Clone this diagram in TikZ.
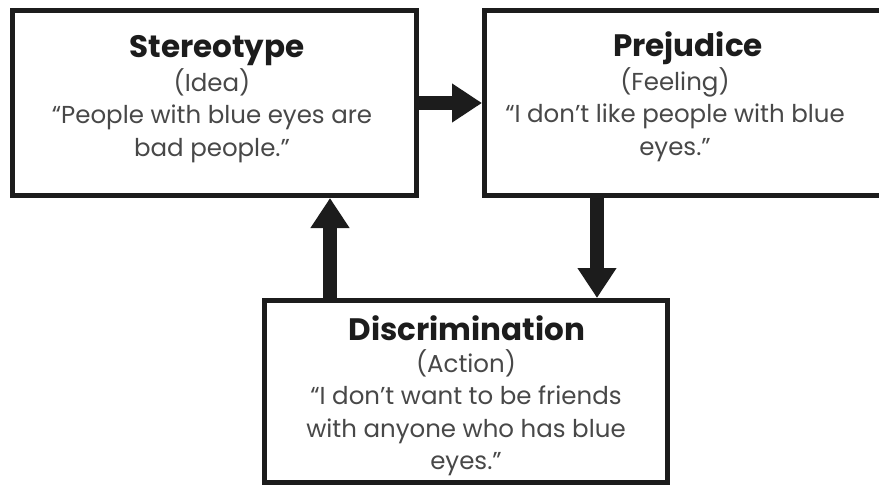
\documentclass[tikz,border=0pt]{standalone}
\usepackage{fontspec}
\setmainfont{Poppins}
\usetikzlibrary{arrows.meta}

\definecolor{ink}{HTML}{1C1C1C}
\definecolor{bodygrey}{HTML}{484848}

\tikzset{
  card/.style={draw=ink, line width=5pt, fill=white, inner sep=0pt},
  cardtitle/.style={anchor=base, inner sep=0pt, text=ink,
    font=\fontsize{31}{36}\selectfont\bfseries},
  cardbody/.style={anchor=north, inner sep=0pt, align=center, text=bodygrey,
    font=\fontsize{24.5}{32.5}\selectfont},
  flow/.style={draw=ink, line width=14pt, -{Triangle[width=37pt,length=30pt]}}
}

\begin{document}
\begin{tikzpicture}[x=1pt, y=-1pt]
\useasboundingbox (0,0) rectangle (879,485);

% the three boxes
\node[card, minimum width=404pt, minimum height=185pt] (st) at (214.5,103) {};
\node[card, minimum width=403pt, minimum height=185pt] (pr) at (686,103) {};
\node[card, minimum width=403pt, minimum height=182pt] (di) at (466,391.5) {};

% box texts (body nodes hang from the first baseline minus the strut height)
\node[cardtitle] (stTitle) at (217,57) {Stereotype};
\node[cardbody] (stBody) at (212,68.25)
  {\strut(Idea)\\\strut“People with blue eyes are\\\strut bad people.”};

\node[cardtitle] (prTitle) at (688,56) {Prejudice};
\node[cardbody] (prBody) at (675,67.25)
  {\strut(Feeling)\\\strut“I don’t like people with blue\\\strut eyes.”};

\node[cardtitle] (diTitle) at (467,340) {Discrimination};
\node[cardbody] (diBody) at (466,349.25)
  {\strut(Action)\\\strut“I don’t want to be friends\\\strut with anyone who has blue\\\strut eyes.”};

% connectors
\coordinate (downx) at (597,0);
\coordinate (upx) at (330,0);
\draw[flow] (st.east) -- (pr.west);
\draw[flow] (downx |- pr.south) -- (downx |- di.north);
\draw[flow] (upx |- di.north) -- (upx |- st.south);
\end{tikzpicture}
\end{document}
